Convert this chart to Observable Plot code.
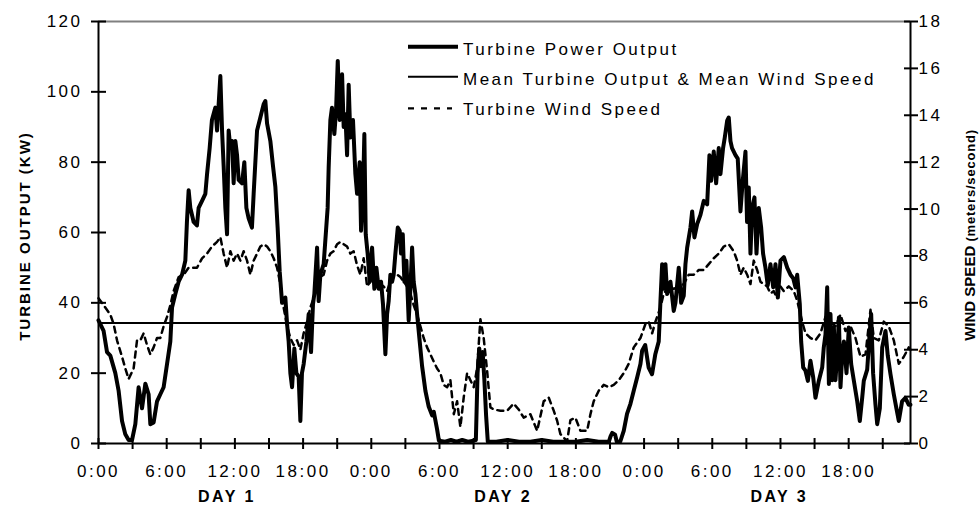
<!DOCTYPE html>
<html>
<head>
<meta charset="utf-8">
<script src="https://cdn.jsdelivr.net/npm/d3@7"></script>
<script src="https://cdn.jsdelivr.net/npm/@observablehq/plot@0.6"></script>
<style>
  html, body { margin: 0; padding: 0; background: #fff; }
  #wrap { position: relative; width: 979px; height: 508px; }
  #wrap svg { position: absolute; left: 0; top: 0; }
  #overlay { pointer-events: none; }
  g[aria-label="day-label"] text { letter-spacing: 3px; }
</style>
</head>
<body>
<div id="wrap"></div>
<script>
// ---------- data (hours from start of DAY 1, kW) ----------
const powerTime = [
  0.0, 0.45, 0.75, 1.04, 1.48, 1.77, 2.07, 2.36, 2.65, 2.95, 3.24, 3.53, 3.83, 4.12, 4.41, 4.56, 4.85, 5.15, 5.44, 5.73,
  6.03, 6.32, 6.47, 6.76, 7.05, 7.35, 7.64, 7.78, 7.93, 8.08, 8.37, 8.66, 8.81, 9.11, 9.4, 9.55, 9.78, 9.98, 10.28, 10.43,
  10.72, 10.87, 11.01, 11.16, 11.31, 11.45, 11.6, 11.75, 11.89, 12.04, 12.19, 12.33, 12.63, 12.83, 13.01, 13.21, 13.5, 13.65, 13.95, 14.24,
  14.53, 14.68, 14.83, 15.12, 15.35, 15.56, 15.76, 15.94, 16.15, 16.44, 16.59, 16.73, 16.88, 17.03, 17.23, 17.41, 17.61, 17.76, 17.9, 18.05,
  18.29, 18.49, 18.7, 18.87, 18.99, 19.23, 19.37, 19.52, 19.81, 20.16, 20.25, 20.4, 20.54, 20.75, 20.9, 21.05, 21.22, 21.43, 21.57, 21.72,
  21.87, 22.01, 22.16, 22.39, 22.6, 22.75, 22.98, 23.1, 23.27, 23.39, 23.51, 23.68, 23.86, 24.07, 24.27, 24.45, 24.65, 24.86, 25.03, 25.24,
  25.39, 25.53, 25.68, 25.83, 25.97, 26.12, 26.33, 26.5, 26.62, 26.77, 26.91, 27.09, 27.29, 27.44, 27.59, 27.73, 27.88, 28.03, 28.26, 28.47,
  28.76, 29.05, 29.35, 29.5, 29.79, 29.95, 30.5, 31.0, 31.5, 32.0, 32.5, 33.0, 33.2, 33.35, 33.5, 33.65, 33.8, 33.95, 34.1, 34.25,
  35.0, 36.0, 37.0, 38.0, 39.0, 40.0, 41.0, 42.0, 43.0, 44.0, 44.9, 45.05, 45.2, 45.45, 45.6, 45.9, 46.21, 46.5, 46.8, 47.09,
  47.39, 47.68, 47.83, 48.1, 48.4, 48.7, 48.99, 49.29, 49.44, 49.59, 49.73, 49.88, 50.03, 50.32, 50.61, 50.76, 51.05, 51.26, 51.49, 51.64,
  51.79, 52.08, 52.23, 52.43, 52.67, 52.96, 53.25, 53.55, 53.75, 53.9, 54.13, 54.34, 54.57, 54.72, 54.95, 55.1, 55.31, 55.45, 55.6, 55.74,
  56.04, 56.24, 56.48, 56.68, 56.92, 57.06, 57.21, 57.36, 57.51, 57.71, 57.89, 58.09, 58.3, 58.47, 58.68, 58.88, 59.12, 59.36, 59.56, 59.77,
  60.0, 60.3, 60.59, 60.88, 61.12, 61.32, 61.47, 61.7, 61.82, 62.0, 62.2, 62.41, 62.64, 62.88, 63.08, 63.37, 63.67, 63.81, 63.96, 64.11,
  64.26, 64.4, 64.55, 64.7, 64.84, 64.99, 65.14, 65.28, 65.43, 65.58, 65.81, 66.01, 66.22, 66.45, 66.75, 66.98, 67.19, 67.33, 67.63, 67.86,
  67.98, 68.15, 68.36, 68.51, 68.74, 68.95, 69.24, 69.44, 69.68, 69.97, 70.2, 70.41, 70.7, 70.99, 71.29, 71.44
];
const powerOutput = [
  35, 32, 26, 25, 20, 15, 6.4, 2.6, 1, 1, 5.5, 16, 10, 17, 14, 5.5, 6, 12, 14, 16,
  22.6, 29, 38.7, 42.5, 46, 48, 52, 63, 72, 67, 63, 62, 67, 69, 71, 76.6, 84, 92, 95.5, 89,
  104.5, 89, 79, 67, 59.5, 89, 84, 86, 74, 86, 82, 75, 74, 80, 67, 64, 61.4, 71, 89, 92.7,
  96.5, 97.4, 91, 86, 79, 73, 61.4, 49, 40, 41.5, 34, 29, 20, 16, 27, 20, 19, 6.4, 20, 22.6,
  29, 36.8, 26, 39.6, 42.5, 55.7, 40.5, 48, 51, 67, 78.5, 92, 95.5, 88, 94.6, 108.8, 92, 105, 90, 93.6,
  82, 102, 87, 92, 76.6, 71, 80, 60.5, 71, 88, 59.5, 54, 46, 55.7, 44, 50, 44, 46, 39.6, 25.4,
  36.8, 40.5, 48, 46, 48, 54, 61.4, 60.5, 54, 59.5, 46, 52, 35, 44, 55.7, 46, 42.5, 36.8, 29, 22,
  15, 10.5, 8, 9, 4, 0.8, 0.5, 1, 0.5, 1, 0.5, 0.8, 1, 20, 27, 22, 26, 18, 8, 0.5,
  0.5, 1, 0.5, 0.5, 1, 0.5, 0.5, 0.5, 1, 0.5, 0.5, 2, 3, 2.5, 0.5, 0.5, 3.6, 8.4, 11.3, 15,
  18.8, 22.6, 26.4, 28, 21.6, 19.7, 25.4, 29, 40.5, 51, 44, 51, 42.5, 46, 37.7, 40, 50, 40, 42, 51,
  55.7, 61.4, 66, 58.6, 62.4, 65, 69, 68, 82, 74.7, 83, 74, 84, 76.6, 84, 87, 91.8, 92.7, 86, 84,
  82, 81, 66, 74.7, 83, 63, 72.8, 54, 67, 70, 54, 67, 61.4, 54, 50, 45, 51, 44.4, 51, 41.5,
  52, 53, 50, 48, 47, 44.4, 48, 39.6, 29, 21.6, 20.7, 17.8, 23.5, 18.8, 13, 17.8, 21.6, 27.3, 31, 44.4,
  16.9, 36.8, 18, 33, 18, 25.4, 35.8, 16, 25, 29, 20, 33, 22.6, 18, 12, 6.4, 13, 17.8, 21, 32,
  36.8, 20, 11, 5.5, 10, 27.3, 32, 25, 19.7, 14, 10, 6.4, 12, 13, 11, 11
];

// wind speed, m/s
const windTime = [
  0.0, 0.45, 1.04, 1.33, 1.63, 2.07, 2.36, 2.65, 3.09, 3.39, 3.68, 3.97, 4.27, 4.56, 4.85, 5.15, 5.44, 5.73, 6.03, 6.32,
  6.61, 7.05, 7.49, 7.93, 8.23, 8.67, 9.11, 9.55, 9.98, 10.43, 10.72, 11.01, 11.31, 11.6, 11.89, 12.19, 12.48, 12.77, 13.07, 13.36,
  13.65, 13.95, 14.24, 14.53, 14.83, 15.12, 15.41, 15.71, 16.0, 16.29, 16.59, 16.88, 17.17, 17.47, 17.76, 18.05, 18.35, 18.64, 18.93, 19.23,
  19.52, 19.81, 20.11, 20.4, 20.69, 20.99, 21.28, 21.57, 21.87, 22.16, 22.45, 22.75, 23.04, 23.33, 23.63, 23.92, 24.21, 24.51, 24.8, 25.09,
  25.39, 25.68, 25.97, 26.27, 26.56, 26.85, 27.15, 27.44, 27.73, 28.03, 28.32, 28.61, 28.91, 29.2, 29.49, 29.79, 30.08, 30.37, 30.67, 30.96,
  31.26, 31.55, 31.84, 32.13, 32.43, 32.72, 33.01, 33.31, 33.6, 33.89, 34.19, 34.48, 34.77, 35.36, 35.95, 36.53, 36.97, 37.41, 38.0, 38.59,
  39.17, 39.61, 40.05, 40.35, 40.64, 41.23, 41.52, 41.96, 42.4, 42.99, 43.28, 43.57, 44.01, 44.45, 44.89, 45.33, 45.77, 46.21, 46.65, 47.09,
  47.68, 47.83, 48.12, 48.41, 48.71, 49.0, 49.44, 49.73, 50.17, 50.61, 51.05, 51.49, 51.93, 52.37, 52.81, 53.25, 53.69, 54.13, 54.57, 55.01,
  55.45, 55.89, 56.19, 56.48, 56.77, 57.07, 57.36, 57.65, 57.95, 58.24, 58.53, 58.83, 59.12, 59.41, 59.71, 60.0, 60.29, 60.73, 61.17, 61.47,
  61.91, 62.2, 62.64, 63.08, 63.52, 63.96, 64.4, 64.84, 65.28, 65.72, 66.16, 66.6, 67.04, 67.48, 67.92, 68.21, 68.65, 69.09, 69.53, 69.97,
  70.41, 70.85, 71.29, 71.44
];
const windSpeed = [
  6.2, 5.9, 5.5, 5.1, 4.4, 3.7, 3.2, 2.75, 3.2, 4.4, 4.4, 4.7, 4.2, 3.8, 4.1, 4.5, 4.5, 5.0, 5.4, 5.9,
  6.5, 7.1, 7.2, 7.5, 7.5, 7.5, 7.9, 8.1, 8.4, 8.6, 8.8, 8.1, 7.5, 8.2, 7.8, 8.1, 7.8, 8.2, 7.8, 7.2,
  7.8, 8.1, 8.4, 8.5, 8.4, 8.2, 7.9, 7.5, 6.8, 5.8, 5.0, 4.5, 4.2, 4.4, 4.0, 4.7, 5.2, 5.8, 6.2, 6.8,
  7.1, 7.2, 7.8, 8.1, 8.2, 8.5, 8.6, 8.5, 8.4, 8.1, 8.2, 7.6, 7.2, 7.9, 6.7, 6.9, 7.2, 7.1, 6.8, 6.7,
  6.5, 6.9, 7.2, 7.2, 7.1, 6.9, 6.7, 6.4, 5.9, 5.5, 5.0, 4.5, 4.1, 3.8, 3.5, 3.2, 3.0, 2.5, 2.4, 2.7,
  1.25, 1.8, 0.7, 1.96, 3.0, 2.7, 2.4, 3.2, 5.3, 4.5, 3.1, 1.54, 1.45, 1.4, 1.4, 1.7, 1.45, 1.1, 1.25, 0.54,
  1.8, 1.96, 1.4, 0.97, 0.4, 0.1, 1.0, 1.1, 0.54, 0.54, 1.25, 1.8, 2.25, 2.5, 2.4, 2.5, 2.7, 3.0, 3.4, 4.1,
  4.5, 4.7, 5.1, 5.2, 4.7, 5.2, 5.8, 6.4, 6.7, 6.6, 6.7, 6.8, 7.2, 7.2, 7.4, 7.4, 7.65, 7.9, 8.1, 8.4,
  8.5, 8.2, 7.8, 7.2, 7.5, 7.2, 6.8, 7.8, 7.4, 6.9, 6.8, 6.7, 6.4, 6.5, 6.2, 6.7, 6.5, 6.7, 6.5, 6.1,
  5.2, 4.7, 4.5, 4.4, 4.7, 5.4, 5.2, 5.0, 5.5, 4.8, 5.0, 4.5, 3.7, 3.8, 5.7, 4.5, 4.4, 5.2, 5.0, 4.4,
  3.4, 3.7, 4.1, 4.0
];

const meanOutput = 34.3;            // kW (same line = mean wind speed 5.15 m/s)
const outputTicks = [0, 20, 40, 60, 80, 100, 120];
const windTicks = [0, 2, 4, 6, 8, 10, 12, 14, 16, 18];
const hourTicks = [0, 3, 6, 9, 12, 15, 18, 21, 24, 27, 30, 33, 36, 39, 42, 45, 48, 51, 54, 57, 60, 63, 66, 69];
const hourLabelPos = [0, 6, 12, 18, 24, 30, 36, 42, 48, 54, 60, 66];
const hourLabels = ["0:00", "6:00", "12:00", "18:00", "0:00", "6:00", "12:00", "18:00", "0:00", "6:00", "12:00", "18:00"];
const dayNames = ["DAY 1", "DAY 2", "DAY 3"];
const dayCenters = [11.3, 35.6, 59.9];
const legendLabels = ["Turbine Power Output", "Mean Turbine Output & Mean Wind Speed", "Turbine Wind Speed"];
const leftTitle = "TURBINE OUTPUT (KW)";
const rightTitle = "WIND SPEED";
const rightUnit = "(meters/second)";

// ---------- chart ----------
const xMax = 71.44;
const outputMax = 120, windMax = 18;
const windToOutput = outputMax / windMax;

const power = powerTime.map((t, i) => ({t, v: powerOutput[i]}));
const wind = windTime.map((t, i) => ({t, v: windSpeed[i]}));
const days = dayNames.map((name, i) => ({name, t: dayCenters[i]}));
const font = "'Liberation Sans', Arial, Helvetica, sans-serif";

const chart = Plot.plot({
  width: 979,
  height: 508,
  marginLeft: 98,
  marginRight: 69,
  marginTop: 21,
  marginBottom: 65,
  style: {fontFamily: font, fontSize: "17px", color: "#000", background: "#fff", letterSpacing: "2.5px", overflow: "visible"},
  x: {domain: [0, xMax], label: null},
  y: {domain: [0, outputMax], label: null},
  marks: [
    Plot.ruleY([outputMax], {stroke: "#808080", strokeWidth: 2}),
    Plot.ruleY([meanOutput], {stroke: "#000", strokeWidth: 2}),
    Plot.line(wind, {x: "t", y: d => d.v * windToOutput, stroke: "#000", strokeWidth: 2.5, strokeDasharray: "6,5"}),
    Plot.line(power, {x: "t", y: "v", stroke: "#000", strokeWidth: 4, strokeLinejoin: "round", strokeLinecap: "round"}),
    Plot.ruleX([0], {stroke: "#000", strokeWidth: 2}),
    Plot.ruleX([xMax], {stroke: "#000", strokeWidth: 2}),
    Plot.ruleY([0], {stroke: "#000", strokeWidth: 2}),
    // left axis: crossing ticks + labels
    Plot.axisY(outputTicks, {anchor: "left", tickSize: 15, dx: 8, strokeWidth: 2, tickFormat: () => "", label: null}),
    Plot.axisY(outputTicks, {anchor: "left", tickSize: 0, tickPadding: 16, label: null, fill: "#000"}),
    // right axis (wind speed)
    Plot.axisY(windTicks.map(w => w * windToOutput), {anchor: "right", tickSize: 14, dx: -7, strokeWidth: 2, tickFormat: () => "", label: null}),
    Plot.axisY(windTicks.map(w => w * windToOutput), {anchor: "right", tickSize: 0, tickPadding: 8, label: null, fill: "#000",
      tickFormat: v => String(Math.round(v / windToOutput))}),
    // bottom axis
    Plot.axisX(hourTicks, {anchor: "bottom", tickSize: 11, dy: -5, strokeWidth: 2, tickFormat: () => "", label: null}),
    Plot.axisX(hourLabelPos, {anchor: "bottom", tickSize: 0, tickPadding: 21, label: null, fill: "#000",
      tickFormat: d => hourLabels[hourLabelPos.indexOf(d)]}),
    Plot.text(days, {x: "t", text: "name", frameAnchor: "bottom", dy: 58, fontWeight: "bold", fontSize: 16, fill: "#000", ariaLabel: "day-label"})
  ]
});

const wrap = document.getElementById("wrap");
wrap.appendChild(chart);

// ---------- titles and legend (overlay) ----------
const ov = d3.select(wrap).append("svg")
  .attr("id", "overlay").attr("width", 979).attr("height", 508)
  .style("font-family", font);

ov.append("text")
  .attr("transform", "translate(30,236) rotate(-90)")
  .attr("text-anchor", "middle")
  .style("font-size", "15px").style("font-weight", "bold").style("letter-spacing", "2px")
  .text(leftTitle);

const rt = ov.append("text")
  .attr("transform", "translate(975,235) rotate(-90)")
  .attr("text-anchor", "middle")
  .style("font-weight", "bold");
rt.append("tspan").style("font-size", "15px").text(rightTitle + " ");
rt.append("tspan").style("font-size", "13px").style("letter-spacing", "0.8px").text(rightUnit);

const legendStyles = [
  {w: 4, dash: null},
  {w: 2, dash: null},
  {w: 2.3, dash: "6,7"}
];
legendLabels.forEach((label, i) => {
  const yLine = [46.7, 76.7, 108.3][i];
  const yText = [55, 85, 115][i];
  const ln = ov.append("line")
    .attr("x1", 408).attr("x2", i === 2 ? 452 : 458)
    .attr("y1", yLine).attr("y2", yLine)
    .attr("stroke", "#000").attr("stroke-width", legendStyles[i].w);
  if (legendStyles[i].dash) ln.attr("stroke-dasharray", legendStyles[i].dash);
  ov.append("text")
    .attr("x", 463).attr("y", yText)
    .style("font-size", "17px").style("letter-spacing", "2.5px")
    .attr("fill", "#000")
    .text(label);
});
</script>
</body>
</html>
